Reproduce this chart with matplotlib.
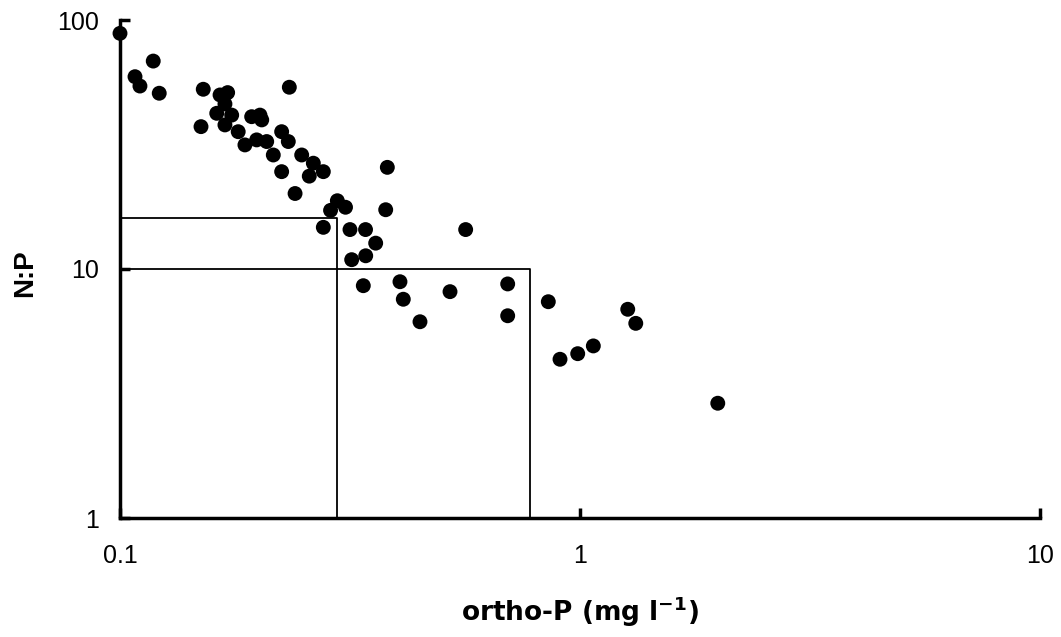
import matplotlib
matplotlib.use("Agg")
import matplotlib.pyplot as plt
from matplotlib.ticker import FixedLocator, FixedFormatter, NullLocator

plt.rcParams['font.family'] = ['Liberation Sans', 'DejaVu Sans']
plt.rcParams['mathtext.fontset'] = 'custom'
plt.rcParams['mathtext.rm'] = 'DejaVu Sans:bold'
plt.rcParams['mathtext.bf'] = 'DejaVu Sans:bold'
plt.rcParams['mathtext.it'] = 'DejaVu Sans:bold'

# data: ortho-P (mg/l) and N:P ratio
ortho_p = [0.100, 0.1181, 0.1078, 0.1105, 0.1217, 0.1517, 0.2334, 0.1650, 0.1714, 0.1691,
           0.1623, 0.1749, 0.1691, 0.1500, 0.1807, 0.1869, 0.1933, 0.2015, 0.2033, 0.1982,
           0.2084, 0.2246, 0.2322, 0.2154, 0.2483, 0.2632, 0.2767, 0.2246, 0.2579, 0.2402,
           0.3812, 0.2968, 0.2869, 0.3092, 0.3781, 0.2767, 0.3162, 0.3418, 0.5642, 0.3596,
           0.3421, 0.3189, 0.3380, 0.4061, 0.4129, 0.5217, 0.4489, 0.6963, 0.6963, 0.8533,
           0.9048, 0.9886, 1.069, 1.270, 1.322, 1.993]
np_ratio = [88.4, 68.4, 59.2, 54.3, 50.8, 52.7, 53.7, 50.0, 51.1, 46.0,
            42.2, 41.5, 37.9, 37.3, 35.6, 31.5, 40.9, 41.5, 39.7, 33.0,
            32.5, 35.6, 32.5, 28.7, 28.7, 26.6, 24.6, 24.6, 23.6, 20.1,
            25.6, 18.8, 17.2, 17.7, 17.3, 14.7, 14.4, 14.4, 14.4, 12.7,
            11.3, 10.9, 8.57, 8.89, 7.56, 8.11, 6.14, 8.71, 6.49, 7.39,
            4.34, 4.57, 4.91, 6.89, 6.05, 2.89]

# reference lines: (N:P level, ortho-P at intersection)
ref_np = [16, 10]
ref_p = [0.296, 0.78]

x_ticks = [0.1, 1, 10]
x_labels = ['0.1', '1', '10']
y_ticks = [1, 10, 100]
y_labels = ['1', '10', '100']

fig = plt.figure(figsize=(10.61, 6.37), dpi=100)
ax = fig.add_axes([120/1061, 1-518/637, 920/1061, 498/637])
ax.set_xscale('log')
ax.set_yscale('log')
ax.set_xlim(0.1, 10)
ax.set_ylim(1, 100)

for yv, xv in zip(ref_np, ref_p):
    ax.plot([0.1, xv, xv], [yv, yv, 1], color='black', lw=1.3, clip_on=False, zorder=2)

ax.scatter(ortho_p, np_ratio, s=115, color='black', edgecolors='none', zorder=3, clip_on=False)

for s in ['top', 'right']:
    ax.spines[s].set_visible(False)
for s in ['left', 'bottom']:
    ax.spines[s].set_linewidth(2.5)

ax.xaxis.set_major_locator(FixedLocator(x_ticks))
ax.xaxis.set_major_formatter(FixedFormatter(x_labels))
ax.yaxis.set_major_locator(FixedLocator(y_ticks))
ax.yaxis.set_major_formatter(FixedFormatter(y_labels))
ax.xaxis.set_minor_locator(NullLocator())
ax.yaxis.set_minor_locator(NullLocator())
ax.tick_params(axis='both', direction='in', length=7, width=2.5, labelsize=18)
ax.tick_params(axis='x', pad=19)
ax.tick_params(axis='y', pad=15)

fig.text(25/1061, 1-273/637, 'N:P', rotation=90, ha='center', va='center',
         fontsize=20, fontweight='bold')
fig.text(580/1061, 1-612/637, r'ortho-P (mg l$^{-1}$)', ha='center', va='center',
         fontsize=19, fontweight='bold', family='DejaVu Sans')

fig.savefig('out.png', dpi=100)
